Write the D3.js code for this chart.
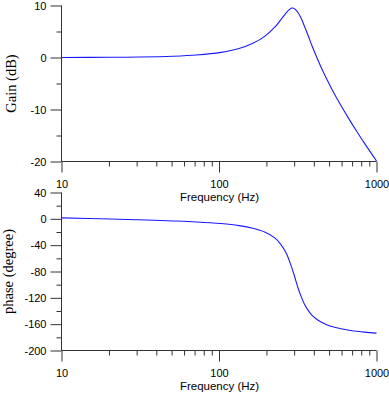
<!DOCTYPE html>
<html>
<head>
<meta charset="utf-8">
<script src="https://cdn.jsdelivr.net/npm/d3@7"></script>
<style>
  body { margin: 0; background: #fff; }
  svg { display: block; }
  .tick text { font-family: "Liberation Sans", Arial, sans-serif; font-size: 11px; fill: #000; }
  .domain, .tick line { stroke: #333; }
</style>
</head>
<body>
<div id="chart"></div>
<script>
// frequency response, values
var freqs = [10, 20.5, 30.8, 51, 72, 103, 134, 164, 195, 226, 246, 267, 282, 290, 298, 308, 318, 334, 349, 370, 390, 411, 442, 483, 534, 596, 668, 750, 842, 1000]
var gainDb = [0.01, 0.04, 0.09, 0.24, 0.47, 0.98, 1.72, 2.73, 4.07, 5.82, 7.2, 8.6, 9.3, 9.52, 9.45, 9.1, 8.6, 7.4, 6.0, 4.05, 2.2, 0.53, -1.67, -4.14, -6.72, -9.29, -11.8, -14.23, -16.57, -19.9]
var phaseDeg = [1.5, -0.3, -1.5, -3.2, -4.7, -7.2, -10.3, -14.3, -20, -29, -38.3, -52, -66.2, -74.5, -83, -94.6, -105.5, -119.3, -129.8, -139.8, -146.6, -151.4, -156.4, -160.8, -164.3, -167, -169.2, -170.8, -172.1, -173.6]

var xMajor = [10, 100, 1000]
var xMinor = [20, 30, 40, 50, 60, 70, 80, 90, 200, 300, 400, 500, 600, 700, 800, 900]
var gainMajor = [-20, -10, 0, 10]
var gainMinor = [-15, -5, 5]
var phaseMajor = [-200, -160, -120, -80, -40, 0, 40]
var phaseMinor = [-180, -140, -100, -60, -20, 20]

var W = 389, H = 397
var svg = d3.select('#chart').append('svg').attr('width', W).attr('height', H)

var x = d3.scaleLog().domain([10, 1000]).range([61.5, 376.5])
var fmt = d => String(d)  // plain hyphen minus, like the original

var panels = [
  {values: gainDb, domain: [-20, 10], range: [161.5, 5.5], major: gainMajor, minor: gainMinor,
   label: 'Gain (dB)', labelX: 15.7},
  {values: phaseDeg, domain: [-200, 40], range: [350.5, 192.5], major: phaseMajor, minor: phaseMinor,
   label: 'phase (degree)', labelX: 12.5},
]

panels.forEach(p => {
  var y = d3.scaleLinear().domain(p.domain).range(p.range)
  var bottom = p.range[0]
  var g = svg.append('g')

  // x axis: minor ticks then major ticks with labels
  g.append('g').attr('transform', `translate(0,${bottom})`)
    .call(d3.axisBottom(x).tickValues(xMinor).tickSize(5).tickSizeOuter(0).tickFormat(''))
    .call(s => s.select('.domain').remove())
  g.append('g').attr('transform', `translate(0,${bottom})`)
    .call(d3.axisBottom(x).tickValues(xMajor).tickSize(11).tickSizeOuter(0).tickFormat(fmt))
    .call(s => s.select('.domain').attr('d', `M${x.range()[0]},0H${x.range()[1]}`))
    .call(s => s.selectAll('text').attr('y', 18.5).attr('dy', '0.71em'))

  // y axis
  g.append('g').attr('transform', `translate(${x.range()[0]},0)`)
    .call(d3.axisLeft(y).tickValues(p.minor).tickSize(5).tickFormat(''))
    .call(s => s.select('.domain').remove())
  g.append('g').attr('transform', `translate(${x.range()[0]},0)`)
    .call(d3.axisLeft(y).tickValues(p.major).tickSize(11).tickSizeOuter(0).tickFormat(fmt))
    .call(s => s.select('.domain').attr('d', `M0,${p.range[1]}V${bottom}`))
    .call(s => s.selectAll('text').attr('x', -15))

  g.append('text')
    .attr('x', (x.range()[0] + x.range()[1]) / 2 + 0.5)
    .attr('y', bottom + 39.5)
    .attr('text-anchor', 'middle')
    .style('font-family', '"Liberation Sans", Arial, sans-serif')
    .style('font-size', '11.5px')
    .text('Frequency (Hz)')

  g.append('text')
    .attr('transform', `translate(${p.labelX},${(p.range[0] + p.range[1]) / 2}) rotate(-90)`)
    .attr('text-anchor', 'middle')
    .style('font-family', '"Liberation Serif", "Times New Roman", serif')
    .style('font-size', '14.5px')
    .text(p.label)

  var line = d3.line()
    .x((d, i) => x(freqs[i]))
    .y(d => y(d))
    .curve(d3.curveCatmullRom)

  g.append('path')
    .datum(p.values)
    .attr('d', line)
    .attr('fill', 'none')
    .attr('stroke', '#1a1aff')
    .attr('stroke-width', 1.1)
})
</script>
</body>
</html>
